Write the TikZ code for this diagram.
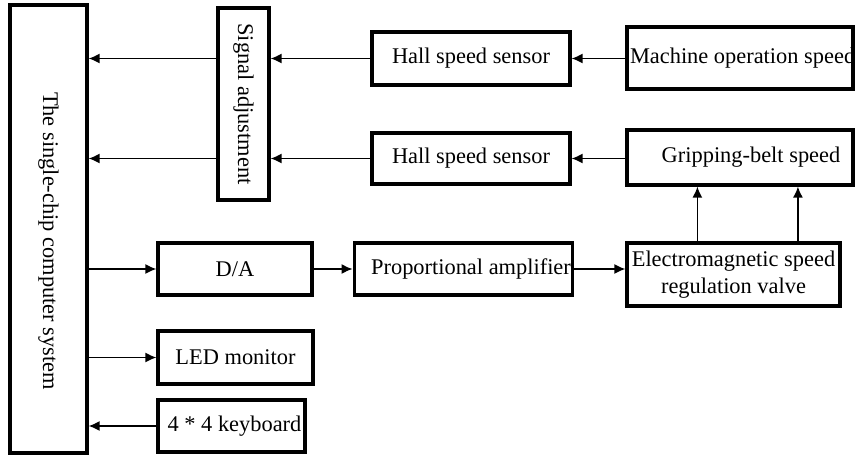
\documentclass[tikz,border=0pt]{standalone}
\usepackage{fontspec}
\setmainfont{Liberation Serif}
\usepackage{tikz}
\usetikzlibrary{positioning}
\usetikzlibrary{calc}
\usetikzlibrary{arrows.meta}

\begin{document}
\begin{tikzpicture}[
font=\fontsize{11.2pt}{13.4pt}\selectfont,
>={Latex[length=5.5pt,width=5pt]},
blk/.style={rectangle, draw=black, line width=1.6pt, fill=white, inner sep=1pt, minimum width=99pt, minimum height=26.5pt},
arr/.style={->, line width=0.75pt},]

\useasboundingbox (0,0) rectangle (427.5pt,-228pt);

\node[blk, rotate=-90, minimum width=224pt, minimum height=38.5pt] (cpu) at (24.25pt,-114.5pt) {\hspace{12pt}The single-chip computer system};
\node[blk, rotate=-90, minimum width=96pt, minimum height=25.5pt] (sig) at (121.75pt,-52pt) {Signal adjustment};

\node[blk] (hall1) at (235.5pt,-29.25pt) {Hall speed sensor};
\node[blk, minimum height=25.5pt] (hall2) at (235.5pt,-79.25pt) {Hall speed sensor};
\node[blk, minimum width=113pt, minimum height=31pt] (mach) at (370pt,-29pt) {\makebox[110pt][l]{Machine operation speed}};
\node[blk, minimum width=113pt, minimum height=27.5pt] (grip) at (370pt,-78.75pt) {\hspace{11pt}Gripping-belt speed};

\node[blk, minimum width=77pt, minimum height=26pt] (da) at (117.5pt,-134.5pt) {D/A\hspace{11pt}};
\node[blk, minimum width=106.5pt, minimum height=26pt] (prop) at (231.75pt,-134.5pt) {\hspace{7.5pt}Proportional amplifier};
\node[blk, minimum width=106.5pt, minimum height=31.5pt, align=center] (elec) at (366.75pt,-137.25pt) {Electromagnetic speed\\regulation valve};

\node[blk, minimum width=77.5pt] (led) at (117.75pt,-178.75pt) {LED monitor};
\node[blk, minimum width=73.5pt, minimum height=26pt] (kbd) at (115.75pt,-213pt) {\hspace{3pt}4 * 4 keyboard};

\draw[arr] (mach.west |- hall1) -- (hall1.east);
\draw[arr] (hall1.west) -- (hall1.west -| sig.north);
\draw[arr] (sig.south |- hall1) -- (cpu.north |- hall1);

\draw[arr] (grip.west |- hall2) -- (hall2.east);
\draw[arr] (hall2.west) -- (hall2.west -| sig.north);
\draw[arr] (sig.south |- hall2) -- (cpu.north |- hall2);

\draw[arr] (cpu.north |- da) -- (da.west);
\draw[arr] (da.east) -- (prop.west);
\draw[arr] (prop.east) -- (prop.east -| elec.west);

\coordinate (v1) at ($(elec.north west)!.333!(elec.north east)$);
\coordinate (v2) at ($(elec.north west)!.798!(elec.north east)$);
\draw[arr] (v1) -- (v1 |- grip.south);
\draw[arr] (v2) -- (v2 |- grip.south);

\draw[arr] (cpu.north |- led) -- (led.west);
\draw[arr] (kbd.west) -- (cpu.north |- kbd);

\end{tikzpicture}
\end{document}
